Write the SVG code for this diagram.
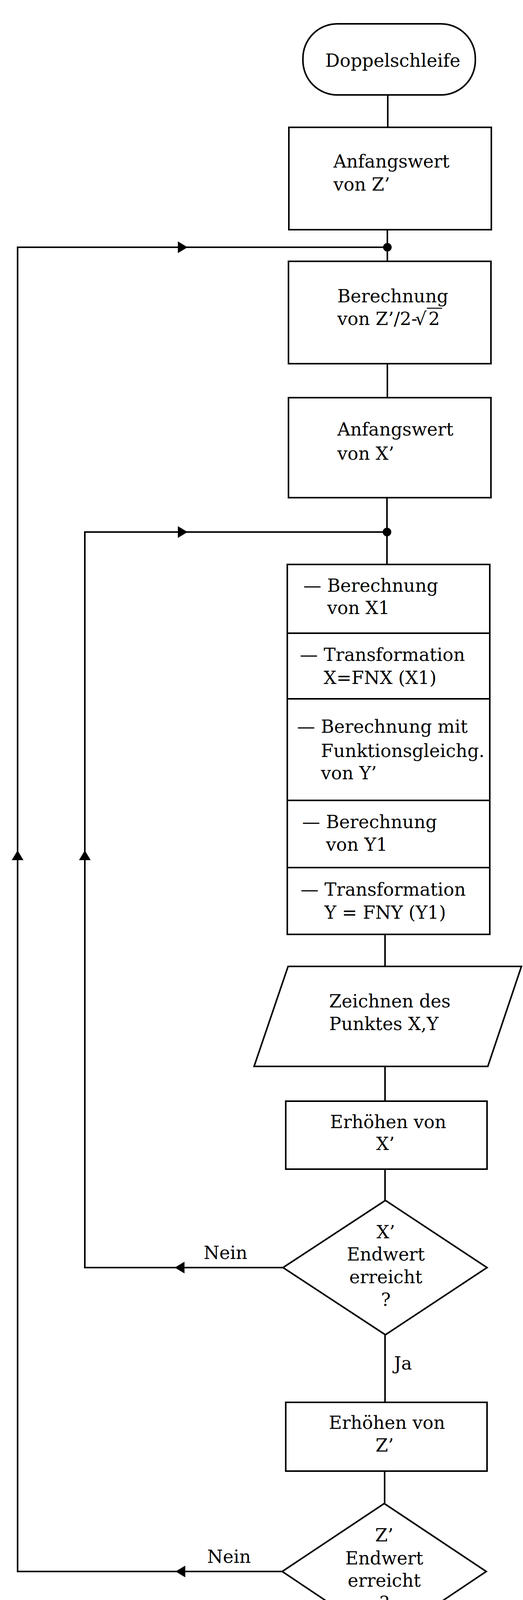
<svg xmlns="http://www.w3.org/2000/svg" xmlns:xlink="http://www.w3.org/1999/xlink" width="1338" height="4532" viewBox="0 0 1338 4532">
<style>
.shape{fill:none;stroke:#000;stroke-width:4;stroke-linejoin:miter}
.line{fill:none;stroke:#000;stroke-width:4}
text{font-family:"DejaVu Serif","Liberation Serif",serif;font-size:46px;fill:#000}
.c{text-anchor:middle}
</style>
<defs>
<path id="ah" d="M0,0 L-25,-15 L-25,15 Z" fill="#000"/>
</defs>
<rect width="1338" height="4532" fill="#fff"/>

<g id="connectors">
<line class="line" x1="992" y1="243" x2="992" y2="326"/>
<line class="line" x1="991" y1="588" x2="991" y2="669"/>
<line class="line" x1="991" y1="931" x2="991" y2="1018"/>
<line class="line" x1="990" y1="1274" x2="990" y2="1445"/>
<line class="line" x1="985" y1="2392" x2="985" y2="2474"/>
<line class="line" x1="985" y1="2730" x2="985" y2="2819"/>
<line class="line" x1="985" y1="2993" x2="985" y2="3073"/>
<line class="line" x1="985" y1="3417" x2="985" y2="3590"/>
<line class="line" x1="984" y1="3766" x2="984" y2="3849"/>
<line class="line" x1="983" y1="4198" x2="983" y2="4314"/>
<polyline class="line" points="724,3245 217,3245 217,1362 990,1362"/>
<polyline class="line" points="722,4023 45,4023 45,633 991,633"/>
<circle cx="991" cy="633" r="11" fill="#000"/>
<circle cx="990" cy="1362" r="11" fill="#000"/>
<use xlink:href="#ah" transform="translate(480,633)"/>
<use xlink:href="#ah" transform="translate(480,1362)"/>
<use xlink:href="#ah" transform="translate(45,2177) rotate(-90)"/>
<use xlink:href="#ah" transform="translate(217,2177) rotate(-90)"/>
<use xlink:href="#ah" transform="translate(447,3245) rotate(180)"/>
<use xlink:href="#ah" transform="translate(449,4023) rotate(180)"/>
<text x="521" y="3223">Nein</text>
<text x="530" y="4001">Nein</text>
<text x="1008" y="3506">Ja</text>
<text x="1004" y="4267">Ja</text>
</g>

<g id="start">
<rect class="shape" x="775" y="61" width="441" height="182" rx="88" ry="88"/>
<text class="c" x="1005" y="171">Doppelschleife</text>
</g>

<g id="init-z">
<rect class="shape" x="739" y="326" width="518" height="262"/>
<text x="853" y="429">Anfangswert</text>
<text x="853" y="488">von Z’</text>
</g>

<g id="calc-z">
<rect class="shape" x="738" y="669" width="518" height="262"/>
<text x="863" y="774">Berechnung</text>
<text x="863" y="832">von Z’/2-<tspan x="1062">√</tspan><tspan x="1096">2</tspan></text>
<line x1="1092" y1="789" x2="1131" y2="789" stroke="#000" stroke-width="2.5"/>
</g>

<g id="init-x">
<rect class="shape" x="738" y="1018" width="518" height="256"/>
<text x="863" y="1115">Anfangswert</text>
<text x="863" y="1177">von X’</text>
</g>

<g id="compute">
<rect class="shape" x="735" y="1445" width="518" height="947"/>
<line class="shape" x1="735" y1="1621" x2="1253" y2="1621"/>
<line class="shape" x1="735" y1="1789" x2="1253" y2="1789"/>
<line class="shape" x1="735" y1="2049" x2="1253" y2="2049"/>
<line class="shape" x1="735" y1="2221" x2="1253" y2="2221"/>
<text x="776" y="1515">—</text>
<text x="837" y="1515">Berechnung</text>
<text x="837" y="1572">von X1</text>
<text x="767" y="1692">—</text>
<text x="828" y="1692">Transformation</text>
<text x="828" y="1751">X=FNX (X1)</text>
<text x="760" y="1876">—</text>
<text x="821" y="1876">Berechnung mit</text>
<text x="821" y="1938">Funktionsgleichg.</text>
<text x="821" y="1995">von Y’</text>
<text x="773" y="2120">—</text>
<text x="834" y="2120">Berechnung</text>
<text x="834" y="2178">von Y1</text>
<text x="769" y="2293">—</text>
<text x="830" y="2293">Transformation</text>
<text x="830" y="2352">Y = FNY (Y1)</text>
</g>

<g id="plot">
<polygon class="shape" points="737,2474 1334,2474 1248,2730 650,2730"/>
<text x="842" y="2579">Zeichnen des</text>
<text x="842" y="2637">Punktes X,Y</text>
</g>

<g id="inc-x">
<rect class="shape" x="731" y="2819" width="515" height="174"/>
<text class="c" x="993" y="2888">Erhöhen von</text>
<text class="c" x="986" y="2944">X’</text>
</g>

<g id="test-x">
<polygon class="shape" points="986,3073 1246,3245 986,3417 724,3245"/>
<text class="c" x="987" y="3170">X’</text>
<text class="c" x="987" y="3227">Endwert</text>
<text class="c" x="987" y="3285">erreicht</text>
<text class="c" x="987" y="3343">?</text>
</g>

<g id="inc-z">
<rect class="shape" x="731" y="3590" width="515" height="176"/>
<text class="c" x="990" y="3658">Erhöhen von</text>
<text class="c" x="984" y="3716">Z’</text>
</g>

<g id="test-z">
<polygon class="shape" points="983,3849 1244,4023 983,4198 722,4023"/>
<text class="c" x="983" y="3946">Z’</text>
<text class="c" x="983" y="4005">Endwert</text>
<text class="c" x="983" y="4062">erreicht</text>
<text class="c" x="983" y="4119">?</text>
</g>

<g id="end">
<rect class="shape" x="765" y="4314" width="438" height="181" rx="88" ry="88"/>
<text class="c" x="984" y="4434">Ende</text>
</g>
</svg>
